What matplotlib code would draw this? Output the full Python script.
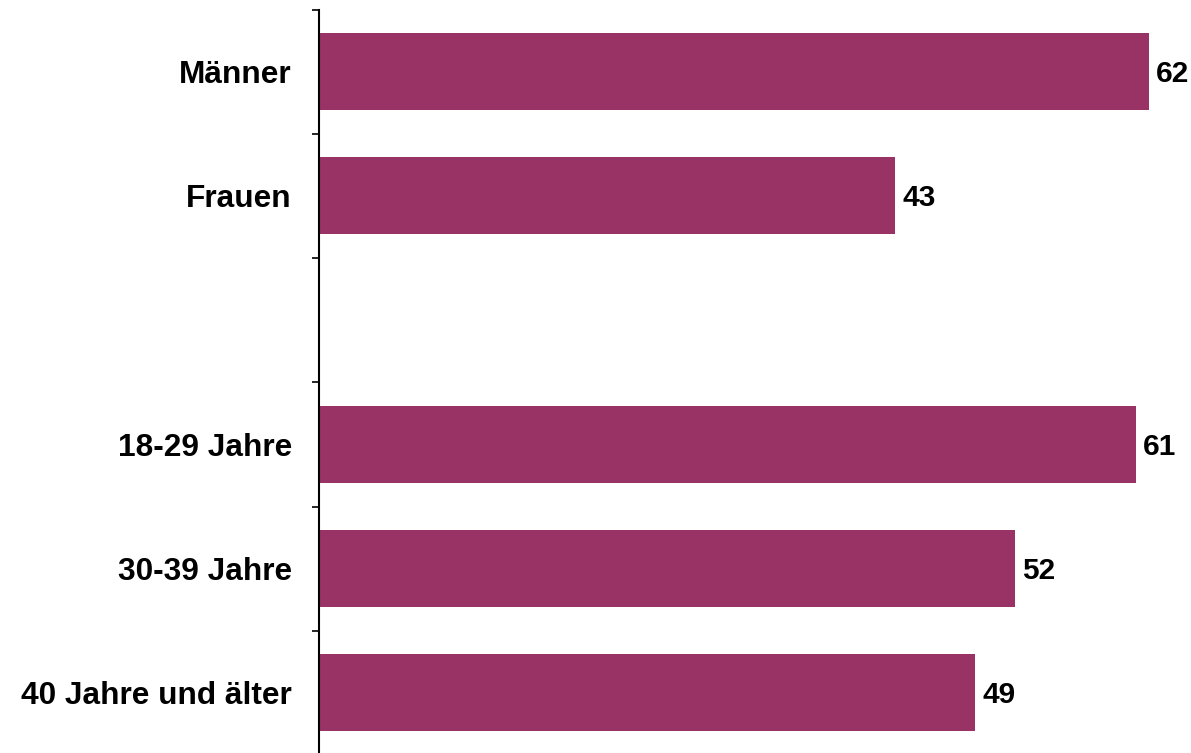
import matplotlib
matplotlib.use("Agg")
import matplotlib.pyplot as plt
import numpy as np

categories = ["Männer", "Frauen", "", "18-29 Jahre", "30-39 Jahre", "40 Jahre und älter"]
values = [62, 43, np.nan, 61, 52, 49]

plt.rcParams['font.family'] = ['Liberation Sans', 'DejaVu Sans']

W, H = 1191, 753
fig = plt.figure(figsize=(W / 100, H / 100), dpi=100)
left_px, top_px, bottom_px = 319, 9.5, 755
ax = fig.add_axes([left_px / W, (H - bottom_px) / H, (W - left_px) / W, (bottom_px - top_px) / H])

pos = np.arange(len(categories))
ax.barh(pos, values, height=0.62, color="#993366", zorder=2)
for p, v in zip(pos, values):
    if not np.isnan(v):
        ax.text(v + 0.55, p + 0.02, f"{v:g}", va="center", ha="left", fontsize=21.5, fontweight="bold")

ax.set_ylim(len(categories) - 0.5, -0.5)
ax.set_xlim(0, (W - left_px) / (1149 - left_px) * 62)
ax.set_yticks(pos)
ax.set_yticklabels(categories, fontsize=22.8, fontweight="bold")
ax.tick_params(axis="y", which="major", length=0, pad=19.5)
ax.set_yticks(np.arange(-0.5, len(categories) + 0.5, 1), minor=True)
ax.tick_params(axis="y", which="minor", length=5, width=1.2, direction="out")
ax.set_xticks([])
for s in ["top", "right", "bottom"]:
    ax.spines[s].set_visible(False)
ax.spines["left"].set_linewidth(1.5)

fig.savefig("out.png", dpi=100)
